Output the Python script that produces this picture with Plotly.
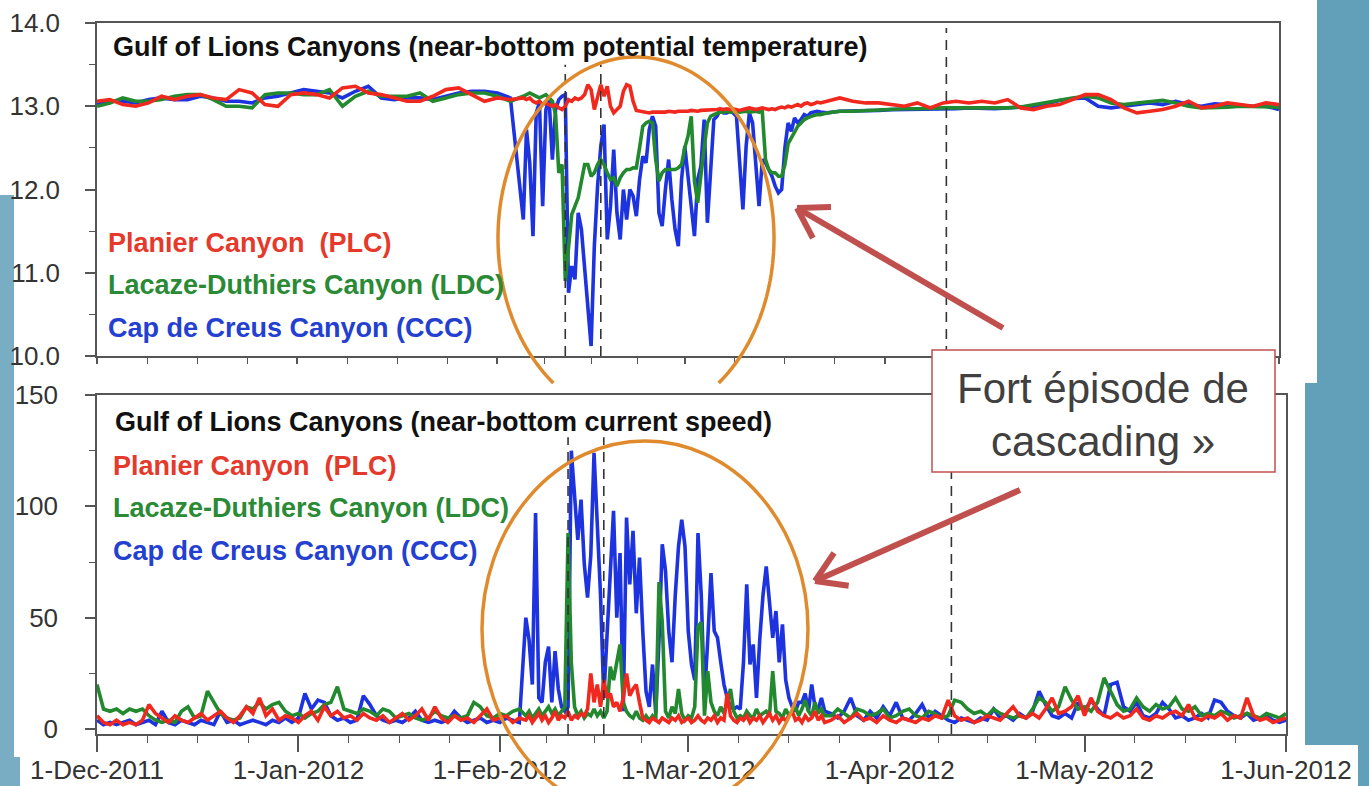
import numpy as np
import pandas as pd
import plotly.graph_objects as go

W, H = 1369, 786

# ---------------- DATA ----------------
# time bases: pre-event (temp every 2 days / speed daily), event (every 12 h), post-event
pre_start = "2011-12-01"
event_start = "2012-02-05"
post_start = "2012-03-23"

# near-bottom potential temperature (deg C)
temp_pre_plc = [13.06, 13.08, 13.02, 13.00, 13.04, 13.12, 13.08, 13.12, 13.14, 13.10, 13.08, 13.20, 13.16, 13.02, 13.00, 13.14, 13.16,
                13.14, 13.10, 13.22, 13.24, 13.16, 13.14, 13.10, 13.06, 13.06, 13.12, 13.20, 13.22, 13.14, 13.06, 13.10, 13.08]
temp_pre_ldc = [13.00, 13.04, 13.10, 13.06, 13.06, 13.08, 13.12, 13.14, 13.14, 13.08, 13.00, 13.00, 12.98, 13.14, 13.16, 13.16, 13.14,
                13.14, 13.20, 13.00, 13.12, 13.18, 13.12, 13.12, 13.12, 13.16, 13.06, 13.10, 13.14, 13.16, 13.16, 13.12, 13.06]
temp_pre_ccc = [13.02, 13.06, 13.06, 13.04, 13.08, 13.10, 13.08, 13.08, 13.12, 13.10, 13.06, 13.06, 13.04, 13.10, 13.12, 13.16, 13.20,
                13.18, 13.16, 13.10, 13.18, 13.24, 13.10, 13.08, 13.10, 13.10, 13.08, 13.12, 13.16, 13.18, 13.18, 13.16, 13.10]

temp_evt_plc = [13.10, 13.08, 13.10, 13.06, 13.04, 13.06, 13.02, 13.04, 13.02, 13.00, 13.02, 12.98, 12.96, 13.00, 13.08, 13.06,
                13.10, 13.08, 13.10, 13.14, 13.26, 13.20, 12.96, 13.10, 13.26, 13.12, 13.24, 13.00, 12.92, 12.96, 13.00, 13.18,
                13.26, 13.24, 13.06, 12.95, 12.94, 12.93, 12.93, 12.92, 12.93, 12.93, 12.92, 12.93, 12.93, 12.94, 12.93, 12.93,
                12.94, 12.94, 12.93, 12.94, 12.95, 12.94, 12.94, 12.95, 12.95, 12.96, 12.95, 12.96, 12.96, 12.97, 12.96, 12.97,
                12.96, 12.97, 12.96, 12.95, 12.96, 12.97, 12.98, 12.97, 12.96, 12.97, 12.98, 12.97, 12.96, 12.97, 12.96, 12.98,
                12.99, 12.98, 13.00, 12.99, 13.00, 13.02, 13.00, 13.03, 13.04, 13.02, 13.03, 13.05, 13.04]
temp_evt_ldc = [13.12, 13.14, 13.16, 13.14, 13.12, 13.10, 13.12, 13.14, 13.10, 13.06, 12.90, 12.20, 12.30, 10.90, 11.30, 11.70,
                11.80, 11.90, 12.10, 12.30, 12.30, 12.16, 12.20, 12.30, 12.36, 12.30, 12.20, 12.12, 12.14, 12.04, 12.14, 12.20,
                12.24, 12.24, 12.26, 12.26, 12.50, 12.76, 12.80, 12.82, 12.80, 12.36, 12.10, 12.20, 12.24, 12.24, 12.24, 12.24,
                12.26, 12.30, 12.50, 12.64, 12.88, 12.10, 11.84, 12.20, 12.50, 12.80, 12.88, 12.90, 12.92, 12.93, 12.93, 12.94,
                12.93, 12.94, 12.94, 12.93, 12.94, 12.94, 12.93, 12.94, 12.94, 12.93, 12.94, 12.36, 12.24, 12.20, 12.20, 12.16,
                12.16, 12.30, 12.55, 12.62, 12.70, 12.76, 12.80, 12.84, 12.86, 12.88, 12.89, 12.90, 12.90]
temp_evt_ccc = [11.64, 12.72, 12.32, 11.44, 12.92, 13.04, 11.80, 12.96, 13.08, 12.36, 12.96, 13.08, 13.12, 13.14, 10.76, 11.08,
                10.92, 11.72, 11.52, 11.08, 10.52, 10.12, 11.32, 12.04, 12.52, 12.78, 11.40, 11.80, 12.48, 11.72, 11.40, 12.00,
                11.64, 12.00, 11.92, 11.68, 12.12, 12.40, 12.32, 12.72, 12.88, 12.76, 11.72, 11.56, 12.00, 12.36, 11.88, 11.52,
                11.32, 12.12, 12.52, 12.12, 11.80, 11.44, 12.12, 12.28, 12.84, 11.60, 12.32, 12.84, 12.88, 12.96, 12.92, 12.92,
                12.94, 12.92, 12.88, 12.32, 11.76, 12.52, 12.92, 12.80, 12.32, 11.80, 12.36, 12.32, 12.24, 12.16, 12.04, 11.96,
                12.00, 12.50, 12.80, 12.70, 12.86, 12.80, 12.84, 12.90, 12.88, 12.92, 12.93, 12.94, 12.93]

temp_post_plc = [13.06, 13.10, 13.06, 13.04, 13.04, 13.02, 13.00, 13.04, 12.98, 13.04, 13.06, 13.04, 13.06, 13.04, 13.08, 12.98, 12.96, 13.00,
                 13.02, 13.08, 13.14, 13.14, 13.08, 12.98, 12.92, 12.94, 12.96, 13.00, 13.06, 12.98, 13.00, 13.04, 13.02, 13.00, 13.04, 13.02]
temp_post_ldc = [12.92, 12.94, 12.94, 12.95, 12.96, 12.96, 12.97, 12.97, 12.98, 12.98, 12.98, 12.98, 12.98, 12.97, 12.98, 12.99, 13.02, 13.04,
                 13.08, 13.10, 13.12, 13.10, 13.04, 13.02, 13.04, 13.06, 13.07, 13.04, 13.00, 12.98, 12.98, 12.99, 13.00, 13.00, 13.00, 12.99]
temp_post_ccc = [12.92, 12.94, 12.94, 12.95, 12.95, 12.96, 12.96, 12.96, 12.97, 12.97, 12.97, 12.98, 12.97, 12.97, 12.98, 12.99, 13.00, 13.03,
                 13.07, 13.09, 13.10, 13.00, 12.98, 13.00, 13.02, 13.04, 13.02, 13.06, 13.02, 13.00, 13.03, 13.02, 13.00, 13.00, 13.00, 12.96]

# near-bottom current speed (cm/s)
spd_pre_plc = [6, 3, 2, 4, 2, 3, 2, 4, 11, 7, 5, 3, 6, 4, 3, 5, 7, 4, 6, 8, 5, 3, 6, 10, 7, 14, 6, 9, 4, 6, 5, 3, 6,
               8, 4, 10, 6, 8, 5, 6, 4, 7, 5, 4, 6, 3, 5, 7, 4, 6, 9, 4, 10, 5, 3, 6, 4, 5, 3, 6, 9, 4, 5, 6, 3, 5]
spd_pre_ldc = [20, 9, 8, 9, 7, 9, 8, 9, 6, 4, 3, 4, 3, 8, 10, 5, 6, 17, 12, 7, 5, 4, 5, 10, 9, 12, 9, 11, 12, 8, 6, 7, 5,
               7, 8, 11, 12, 19, 9, 8, 7, 9, 8, 6, 9, 8, 5, 6, 7, 5, 4, 5, 8, 6, 5, 6, 5, 6, 12, 10, 6, 5, 7, 6, 8, 9]
spd_pre_ccc = [4, 2, 3, 2, 3, 4, 2, 3, 4, 2, 8, 3, 2, 4, 3, 2, 4, 3, 2, 8, 3, 4, 2, 3, 4, 3, 2, 4, 3, 5, 3, 5, 16,
               9, 13, 12, 6, 4, 5, 3, 4, 15, 11, 6, 4, 3, 4, 3, 5, 8, 4, 3, 4, 3, 4, 8, 5, 3, 4, 5, 3, 4, 3, 5, 4, 3]

spd_evt_plc = [4, 6, 3, 5, 7, 4, 6, 3, 5, 8, 4, 6, 5, 8, 4, 6, 5, 7, 6, 9, 25, 12, 20, 10, 22, 14, 16, 10, 12, 8, 14, 25,
               15, 18, 20, 12, 5, 4, 3, 5, 4, 3, 5, 4, 3, 5, 4, 6, 3, 4, 5, 3, 4, 6, 4, 3, 5, 4, 6, 3, 5, 4, 16, 6,
               4, 3, 5, 4, 6, 3, 5, 4, 6, 3, 5, 7, 4, 6, 3, 5, 4, 6, 8, 4, 5, 3, 6, 4, 5, 8, 4, 6, 3]
spd_evt_ldc = [6, 8, 5, 7, 9, 6, 8, 10, 7, 9, 6, 8, 10, 88, 30, 10, 6, 8, 5, 7, 6, 9, 6, 8, 5, 8, 28, 22, 30, 38, 12, 8,
               6, 5, 8, 5, 4, 6, 4, 6, 4, 66, 48, 8, 5, 10, 7, 18, 7, 4, 6, 5, 10, 46, 48, 6, 26, 12, 8, 6, 10, 7, 12, 18,
               8, 5, 6, 5, 8, 6, 5, 9, 6, 7, 8, 6, 26, 8, 7, 5, 9, 6, 8, 10, 6, 9, 13, 8, 6, 12, 7, 9, 6]
spd_evt_ccc = [50, 40, 20, 97, 14, 12, 30, 37, 12, 35, 18, 10, 8, 10, 125, 105, 85, 103, 74, 59, 78, 124, 95, 60, 14, 44,
               74, 98, 50, 79, 8, 95, 65, 89, 52, 77, 44, 17, 10, 29, 7, 40, 83, 71, 44, 30, 60, 82, 94, 82, 44, 29, 22, 88,
               60, 14, 40, 70, 44, 41, 30, 20, 14, 10, 9, 10, 9, 30, 65, 29, 38, 14, 40, 60, 73, 55, 41, 53, 30, 47, 22, 14,
               10, 8, 12, 12, 16, 8, 20, 10, 9, 14, 8]

spd_post_plc = [4, 6, 3, 5, 7, 4, 5, 3, 6, 4, 3, 5, 4, 3, 5, 4, 6, 5, 13, 6, 4, 5, 3, 4, 6, 5, 4, 7, 10, 6, 5, 7, 5, 9, 14, 7,
                8, 10, 15, 6, 14, 8, 6, 5, 7, 5, 6, 9, 5, 4, 6, 5, 7, 8, 6, 11, 5, 4, 6, 5, 7, 4, 6, 5, 14, 6, 4, 5, 3, 4, 5]
spd_post_ldc = [6, 9, 7, 5, 9, 8, 6, 7, 9, 5, 6, 8, 9, 6, 5, 8, 7, 5, 6, 13, 12, 9, 7, 8, 6, 9, 7, 6, 5, 6, 5, 9, 14, 12,
                8, 10, 19, 13, 9, 10, 8, 12, 23, 17, 11, 8, 9, 14, 10, 8, 11, 9, 10, 14, 9, 8, 10, 6, 7, 6, 8, 7, 5, 6, 7, 6, 5, 7, 6, 5, 7]
spd_post_ccc = [7, 5, 8, 14, 6, 4, 8, 5, 10, 6, 12, 5, 4, 7, 11, 5, 8, 6, 4, 3, 5, 4, 3, 5, 4, 9, 5, 6, 4, 7, 5, 8, 17, 11,
                6, 5, 7, 5, 12, 8, 13, 9, 6, 20, 21, 10, 8, 12, 6, 5, 7, 12, 9, 5, 6, 4, 5, 7, 5, 13, 12, 8, 6, 5, 7, 4, 5, 6, 4, 3, 4]

# axis ticks / labels
month_ticks = ["2011-12-01", "2012-01-01", "2012-02-01", "2012-03-01", "2012-04-01", "2012-05-01", "2012-06-01"]
month_labels = ["1-Dec-2011", "1-Jan-2012", "1-Feb-2012", "1-Mar-2012", "1-Apr-2012", "1-May-2012", "1-Jun-2012"]
temp_ticks = [10, 11, 12, 13, 14]
temp_labels = ["10.0", "11.0", "12.0", "13.0", "14.0"]
speed_ticks = [0, 50, 100, 150]
speed_labels = ["0", "50", "100", "150"]

# event markers (dashed lines)
event_dates = ["2012-02-11 12:00", "2012-02-17 00:00", "2012-04-10 12:00"]

station_names = ["Planier Canyon  (PLC)", "Lacaze-Duthiers Canyon (LDC)", "Cap de Creus Canyon (CCC)"]
title_top = "Gulf of Lions Canyons (near-bottom potential temperature)"
title_bot = "Gulf of Lions Canyons (near-bottom current speed)"
callout_lines = ["Fort épisode de", "cascading »"]

# ---------------- STYLE ----------------
RED, GREEN, BLUE = "#f0281e", "#23892f", "#1d33e0"
TXT_RED, TXT_GREEN, TXT_BLUE = "#e5392b", "#2a8a35", "#2340d0"
AX = "#555555"
FONT = "Arial, Liberation Sans, sans-serif"
LW = 3.6


def px(x):
    return x / W


def py(y):
    return 1 - y / H


def build(pre, pre_freq, evt, post, post_freq):
    t = pd.date_range(pre_start, periods=len(pre), freq=pre_freq)
    t = t.append(pd.date_range(event_start, periods=len(evt), freq="12h"))
    t = t.append(pd.date_range(post_start, periods=len(post), freq=post_freq))
    return t, list(pre) + list(evt) + list(post)


fig = go.Figure()

temp_sets = [(temp_pre_ccc, temp_evt_ccc, temp_post_ccc, BLUE),
             (temp_pre_ldc, temp_evt_ldc, temp_post_ldc, GREEN),
             (temp_pre_plc, temp_evt_plc, temp_post_plc, RED)]
for pre, evt, post, col in temp_sets:
    t, v = build(pre, "2D", evt, post, "2D")
    fig.add_trace(go.Scatter(x=t, y=v, mode="lines", line=dict(color=col, width=LW),
                             xaxis="x", yaxis="y", hoverinfo="skip", showlegend=False))

spd_sets = [(spd_pre_ccc, spd_evt_ccc, spd_post_ccc, BLUE),
            (spd_pre_ldc, spd_evt_ldc, spd_post_ldc, GREEN),
            (spd_pre_plc, spd_evt_plc, spd_post_plc, RED)]
for pre, evt, post, col in spd_sets:
    t, v = build(pre, "D", evt, post, "D")
    fig.add_trace(go.Scatter(x=t, y=v, mode="lines", line=dict(color=col, width=LW),
                             xaxis="x2", yaxis="y2", hoverinfo="skip", showlegend=False))

# minor ticks: quarter months
mt = pd.to_datetime(month_ticks)
minor_vals = []
for a, b in zip(mt[:-1], mt[1:]):
    for k in (1, 2, 3):
        minor_vals.append(a + (b - a) * k / 4)

tickfont = dict(family=FONT, size=26, color="#333333")
xtickfont = dict(family=FONT, size=26, color="#333333")
xrange = [month_ticks[0], month_ticks[-1]]

common_x = dict(type="date", range=xrange, tickmode="array", tickvals=month_ticks, automargin=False,
                showline=True, linecolor=AX, linewidth=1.5, mirror=True, showgrid=False,
                zeroline=False, ticks="outside", tickcolor=AX, tickwidth=1.5)

fig.update_layout(
    width=W, height=H, autosize=False,
    margin=dict(l=0, r=0, t=0, b=0, pad=0, autoexpand=False),
    paper_bgcolor="#62a0b9", plot_bgcolor="white",
    hovermode=False,
    xaxis=dict(**common_x, domain=[px(97), px(1279)], anchor="y", showticklabels=False, ticklen=6,
               minor=dict(tickmode="array", tickvals=minor_vals, ticks="outside", ticklen=6,
                          tickcolor=AX, tickwidth=1.2)),
    yaxis=dict(domain=[py(356), py(23)], range=[10, 14], tickmode="array", tickvals=temp_ticks, automargin=False,
               ticktext=temp_labels, anchor="x", showline=True, linecolor=AX, linewidth=1.5, mirror=True,
               showgrid=False, zeroline=False, ticks="outside", ticklen=10, tickcolor=AX, tickwidth=1.5,
               tickfont=tickfont, ticklabelstandoff=20,
               minor=dict(dtick=0.5, ticks="outside", ticklen=6, tickcolor=AX, tickwidth=1.2)),
    xaxis2=dict(**common_x, domain=[px(97), px(1286)], anchor="y2", ticktext=month_labels, ticklen=16,
                tickfont=xtickfont, ticklabelstandoff=-4,
                minor=dict(tickmode="array", tickvals=minor_vals, ticks="outside", ticklen=7,
                           tickcolor=AX, tickwidth=1.2)),
    yaxis2=dict(domain=[py(734), py(395)], range=[-2.2, 150], tickmode="array", tickvals=speed_ticks, automargin=False,
                ticktext=speed_labels, anchor="x2", showline=True, linecolor=AX, linewidth=1.5, mirror=True,
                showgrid=False, zeroline=False, ticks="outside", ticklen=10, tickcolor=AX, tickwidth=1.5,
                tickfont=tickfont, ticklabelstandoff=22,
                minor=dict(tickmode="array", tickvals=[25, 75, 125], ticks="outside", ticklen=6,
                           tickcolor=AX, tickwidth=1.2)),
)

shapes = []


def rect_px(x0, y0, x1, y1, color, layer="below", line=None):
    return dict(type="rect", xref="paper", yref="paper", x0=px(x0), x1=px(x1), y0=py(y1), y1=py(y0),
                fillcolor=color, layer=layer, line=dict(width=0) if line is None else line)


# slide background pieces (white picture areas)
shapes.append(rect_px(0, 0, 22, 786, "#78adc3"))
shapes.append(rect_px(0, 0, 1317, 195, "white"))
shapes.append(rect_px(14, 195, 1317, 383, "white"))
shapes.append(rect_px(14, 383, 1305, 757, "white"))
shapes.append(rect_px(20, 745, 1358, 786, "white"))

# dashed event lines
dash = dict(color="#333333", width=1.6, dash="10px,7px")
top_ends = [13.5, 13.5, 13.94]
bot_ends = [131, 131, 150]
for d, te, be in zip(event_dates, top_ends, bot_ends):
    shapes.append(dict(type="line", xref="x", yref="y", x0=d, x1=d, y0=10, y1=te, line=dash, layer="above"))
    shapes.append(dict(type="line", xref="x2", yref="y2", x0=d, x1=d, y0=-2.2, y1=be, line=dash, layer="above"))

# orange ellipses
ORANGE = "#e08a2e"
cx, cy, rx, ry = 636, 238, 138, 181
ang = np.radians(np.linspace(-53.2, 233.2, 160))
ex = cx + rx * np.cos(ang)
ey = cy - ry * np.sin(ang)
path = "M " + " L ".join(f"{px(a):.5f},{py(b):.5f}" for a, b in zip(ex, ey))
shapes.append(dict(type="path", xref="paper", yref="paper", path=path, line=dict(color=ORANGE, width=3.5)))
shapes.append(dict(type="circle", xref="paper", yref="paper", x0=px(482), x1=px(808), y0=py(817), y1=py(441),
                   line=dict(color=ORANGE, width=3.5)))

# callout box
shapes.append(rect_px(932, 350, 1275, 472, "white", layer="above", line=dict(color="#c0504d", width=1.5)))

# arrows
ARROW = "#c0504d"


def arrow(tail, tip, width=6, head=34, deg=32):
    tx, ty = tail
    hx, hy = tip
    L = np.hypot(tx - hx, ty - hy)
    ux, uy = (tx - hx) / L, (ty - hy) / L
    out = [dict(type="line", xref="paper", yref="paper", x0=px(tx), y0=py(ty), x1=px(hx), y1=py(hy),
                line=dict(color=ARROW, width=width))]
    for s in (1, -1):
        a = np.radians(deg) * s
        vx = ux * np.cos(a) - uy * np.sin(a)
        vy = ux * np.sin(a) + uy * np.cos(a)
        out.append(dict(type="line", xref="paper", yref="paper", x0=px(hx), y0=py(hy),
                        x1=px(hx + head * vx), y1=py(hy + head * vy), line=dict(color=ARROW, width=width)))
    return out


shapes += arrow((1003, 328), (797, 208))
shapes += arrow((1020, 490), (815, 581))

fig.update_layout(shapes=shapes)

ann = []


def label(x, y, text, color, size, bold=True, anchor="left"):
    ann.append(dict(xref="paper", yref="paper", x=px(x), y=py(y), text=f"<b>{text}</b>" if bold else text,
                    showarrow=False, xanchor=anchor, yanchor="middle",
                    font=dict(family=FONT, size=size, color=color)))


label(111, 47, title_top, "#111111", 27)
label(113, 422, title_bot, "#111111", 27)
for (name, col), yt, yb in zip(zip(station_names, [TXT_RED, TXT_GREEN, TXT_BLUE]), [243, 285, 328], [466, 508, 551]):
    label(106, yt, name, col, 27)
    label(111, yb, name, col, 27)
label(1103, 388, callout_lines[0], "#404040", 42, bold=False, anchor="center")
label(1103, 441, callout_lines[1], "#404040", 42, bold=False, anchor="center")

fig.update_layout(annotations=ann)
fig.write_html("out.html")
